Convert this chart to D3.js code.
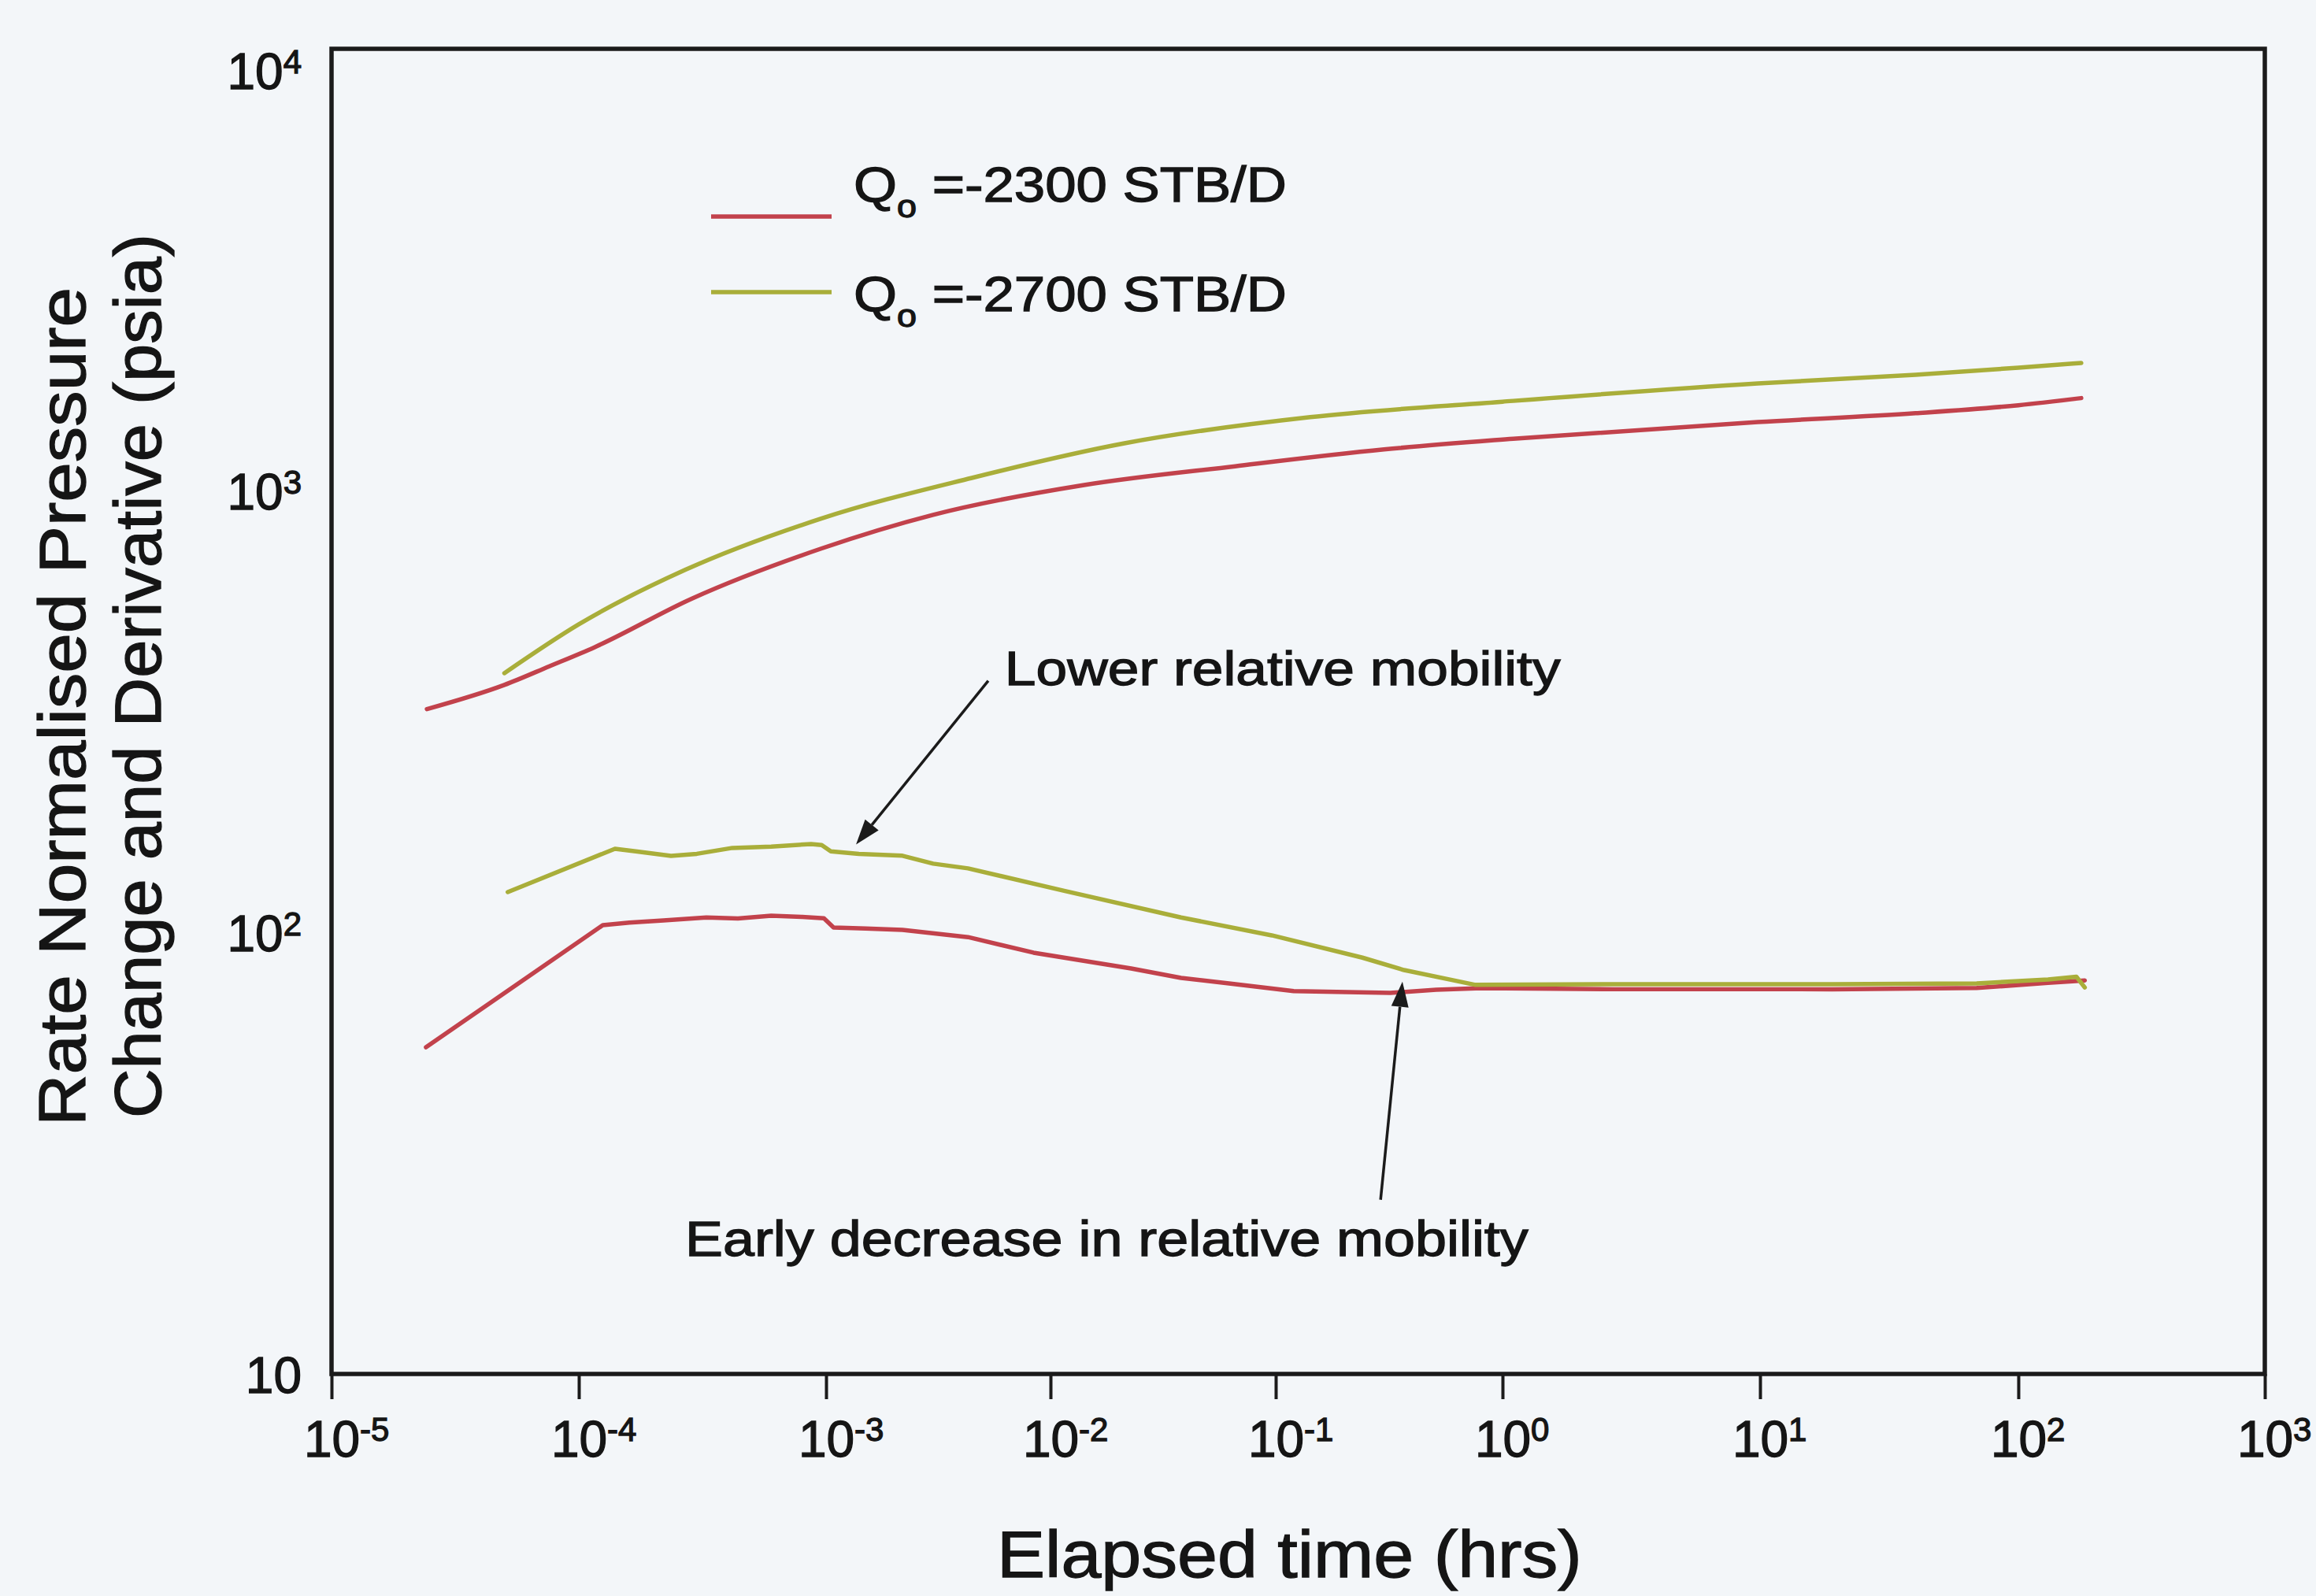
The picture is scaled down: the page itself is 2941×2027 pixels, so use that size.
<!DOCTYPE html>
<html>
<head>
<meta charset="utf-8">
<script src="https://cdn.jsdelivr.net/npm/d3@7"></script>
<style>
  html, body { margin: 0; padding: 0; background: #f3f6f9; }
  svg { display: block; }
  text { font-family: "Liberation Sans", Arial, Helvetica, sans-serif; fill: #151515;
         stroke: #151515; stroke-width: 1.3px; }
</style>
</head>
<body>
<svg id="chart" width="2941" height="2027"></svg>
<script>
// Axis decades: elapsed time (hrs) and rate-normalised pressure (psia)
const timeDecades = [1e-5, 1e-4, 1e-3, 1e-2, 1e-1, 1, 10, 100, 1000];
const pressureDecades = [10, 100, 1000, 10000];
const rateLabels = ["=-2300 STB/D", "=-2700 STB/D"];

// Rate-normalised pressure change, Qo = -2300 STB/D   [time (hrs), psia]
const dp2300 = [
  [2.43e-5, 320], [5.0e-5, 363], [7.6e-5, 400], [1.16e-4, 442], [2.88e-4, 570],
  [9.5e-4, 738], [3.0e-3, 881], [1.41e-2, 1029], [6.6e-2, 1135], [0.30, 1239],
  [1.1, 1310], [9.8, 1429], [40, 1496], [100, 1560], [180, 1619]
];
// Pressure derivative, Qo = -2300 STB/D
const deriv2300 = [
  [2.41e-5, 54.9], [1.25e-4, 103.8], [1.6e-4, 105.2], [2.2e-4, 106.4], [3.28e-4, 108],
  [4.4e-4, 107.4], [6.0e-4, 109], [8.0e-4, 108.3], [9.8e-4, 107.6], [1.08e-3, 102.5],
  [1.5e-3, 102], [2.19e-3, 101.2], [4.29e-3, 97.5], [8.4e-3, 89.9], [2.28e-2, 82.8],
  [3.8e-2, 78.8], [6.2e-2, 76.6], [0.12, 73.6], [0.32, 72.9], [0.51, 74.1],
  [0.81, 74.7], [2.7, 74.3], [19, 74.3], [69, 74.8], [132, 76.8], [186, 77.8]
];
// Rate-normalised pressure change, Qo = -2700 STB/D
const dp2700 = [
  [5.0e-5, 386], [1.0e-4, 498], [2.69e-4, 661], [9.5e-4, 863], [4.46e-3, 1068],
  [2.13e-2, 1279], [0.142, 1466], [1.0, 1589], [9.8, 1748], [40, 1828],
  [100, 1897], [180, 1944]
];
// Pressure derivative, Qo = -2700 STB/D
const deriv2700 = [
  [5.16e-5, 123.3], [1.40e-4, 154.5], [1.7e-4, 152.5], [2.36e-4, 148.9], [3.0e-4, 150.5],
  [4.18e-4, 155.2], [6.0e-4, 156.3], [8.7e-4, 158.4], [9.6e-4, 157.5], [1.05e-3, 152.5],
  [1.4e-3, 150.5], [2.19e-3, 149], [3.0e-3, 143], [4.29e-3, 139.5], [1.16e-2, 124],
  [3.8e-2, 108], [9.6e-2, 98.4], [0.241, 87.6], [0.368, 82.1], [0.604, 77.9],
  [0.76, 76], [2.7, 76.3], [19, 76.3], [69, 76.6], [132, 78.2], [172, 79.3], [186, 75]
];

// Annotations: label anchor, arrow tail and arrow tip, all in data units
const noteLabels = ["Lower relative mobility", "Early decrease in relative mobility"];
const noteAnchors = [[6.25e-3, 363], [2.69e-4, 18.5]];
const noteTails = [[5.28e-3, 371], [0.29, 24.8]];
const noteTips = [[1.36e-3, 158], [0.362, 77.3]];

// ---------------- layout ----------------
const W = 2941, H = 2027;
const plot = { left: 421, right: 2876, top: 62, bottom: 1745 };
// pixel position of each time decade along the bottom axis
const decadeStops = [421, 735, 1049, 1334, 1620, 1908, 2235, 2563, 2876];
const colors = { q2300: "#c2424c", q2700: "#a9ae3a", ink: "#1b1b1b" };
const tickFont = 64, expFont = 42;

const x = d3.scaleLog().domain(timeDecades).range(decadeStops);
const y = d3.scaleLog().domain([pressureDecades[0], pressureDecades[pressureDecades.length - 1]])
  .range([plot.bottom, plot.top]);

const svg = d3.select("#chart");
svg.append("rect").attr("width", W).attr("height", H).attr("fill", "#f3f6f9");

// text helper: draws at (px, py), rotated, stretched to a given run length
function placeText(parent, px, py, size, runLength, build, rotate = 0) {
  const g = parent.append("g").attr("transform", `translate(${px},${py}) rotate(${rotate})`);
  const inner = g.append("g");
  const t = inner.append("text").attr("font-size", size).attr("text-anchor", "start");
  build(t);
  const w = t.node().getBBox().width;
  inner.attr("transform", `scale(${runLength / w},1)`);
  return g;
}

// ---------------- curves ----------------
const smooth = d3.line().curve(d3.curveMonotoneX).x(d => x(d[0])).y(d => y(d[1]));
const jagged = d3.line().x(d => x(d[0])).y(d => y(d[1]));

const series = [
  { color: colors.q2300, pressure: dp2300, derivative: deriv2300 },
  { color: colors.q2700, pressure: dp2700, derivative: deriv2700 }
];

const curves = svg.append("g").attr("fill", "none")
  .attr("stroke-linejoin", "round").attr("stroke-linecap", "round");
series.forEach(s => {
  curves.append("path").attr("d", smooth(s.pressure))
    .attr("stroke", s.color).attr("stroke-width", 5.5);
  curves.append("path").attr("d", jagged(s.derivative))
    .attr("stroke", s.color).attr("stroke-width", 5.5);
});

// ---------------- frame and axes ----------------
svg.append("rect")
  .attr("x", plot.left).attr("y", plot.top)
  .attr("width", plot.right - plot.left).attr("height", plot.bottom - plot.top)
  .attr("fill", "none").attr("stroke", colors.ink).attr("stroke-width", 5.5);

const xAxis = d3.axisBottom(x).tickValues(timeDecades).tickSize(32).tickSizeOuter(0).tickFormat(() => "");
const gx = svg.append("g").attr("transform", `translate(0,${plot.bottom})`).call(xAxis);
gx.select(".domain").remove();
gx.selectAll(".tick line").attr("stroke", colors.ink).attr("stroke-width", 4);
gx.selectAll(".tick text").remove();
gx.selectAll(".tick").each(function (d) {
  const t = d3.select(this).append("text")
    .attr("text-anchor", "start")
    .attr("x", -0.556 * tickFont).attr("y", 105).attr("font-size", tickFont);
  t.append("tspan").text("10");
  t.append("tspan").attr("font-size", expFont).attr("dy", -20).text(Math.round(Math.log10(d)));
});

const gy = svg.append("g");
pressureDecades.forEach(v => {
  const yy = Math.max(y(v) + 24, plot.top + 51);
  const t = gy.append("text").attr("x", 383).attr("y", yy)
    .attr("text-anchor", "end").attr("font-size", tickFont);
  const e = Math.round(Math.log10(v));
  t.append("tspan").text("10");
  if (e !== 1) t.append("tspan").attr("font-size", expFont).attr("dy", -20).text(e);
});

// axis titles
placeText(svg, 1266, 2003, 83, 743, t => t.text("Elapsed time (hrs)"));
placeText(svg, 108, 1430, 84, 1065, t => t.text("Rate Normalised Pressure"), -90);
placeText(svg, 204, 1420, 84, 1123, t => t.text("Change and Derivative (psia)"), -90);

// ---------------- legend ----------------
const legend = svg.append("g");
const legendRows = [
  { color: colors.q2300, lineY: 275, baseY: 256, label: rateLabels[0] },
  { color: colors.q2700, lineY: 371, baseY: 395, label: rateLabels[1] }
];
legendRows.forEach(r => {
  legend.append("line").attr("x1", 903).attr("x2", 1056).attr("y1", r.lineY).attr("y2", r.lineY)
    .attr("stroke", r.color).attr("stroke-width", 5.5);
  placeText(legend, 1084, r.baseY, 63, 550, t => {
    t.append("tspan").text("Q");
    t.append("tspan").attr("font-size", 40).attr("dy", 20).text("o");
    t.append("tspan").attr("dy", -20).text("\u00a0" + r.label);
  });
});

// ---------------- annotations ----------------
const notes = svg.append("g");
const noteRuns = [706, 1071];
noteLabels.forEach((label, i) => {
  const [ax, ay] = noteAnchors[i];
  placeText(notes, x(ax), y(ay), 62, noteRuns[i], t => t.text(label));

  const x0 = x(noteTails[i][0]), y0 = y(noteTails[i][1]);
  const x1 = x(noteTips[i][0]), y1 = y(noteTips[i][1]);
  const len = Math.hypot(x1 - x0, y1 - y0);
  const ux = (x1 - x0) / len, uy = (y1 - y0) / len;
  const head = 32, half = 11;
  const bx = x1 - ux * head, by = y1 - uy * head;
  notes.append("line").attr("x1", x0).attr("y1", y0).attr("x2", bx).attr("y2", by)
    .attr("stroke", colors.ink).attr("stroke-width", 3.5);
  notes.append("path")
    .attr("d", `M${x1},${y1}L${bx - uy * half},${by + ux * half}L${bx + uy * half},${by - ux * half}Z`)
    .attr("fill", colors.ink);
});
</script>
</body>
</html>
